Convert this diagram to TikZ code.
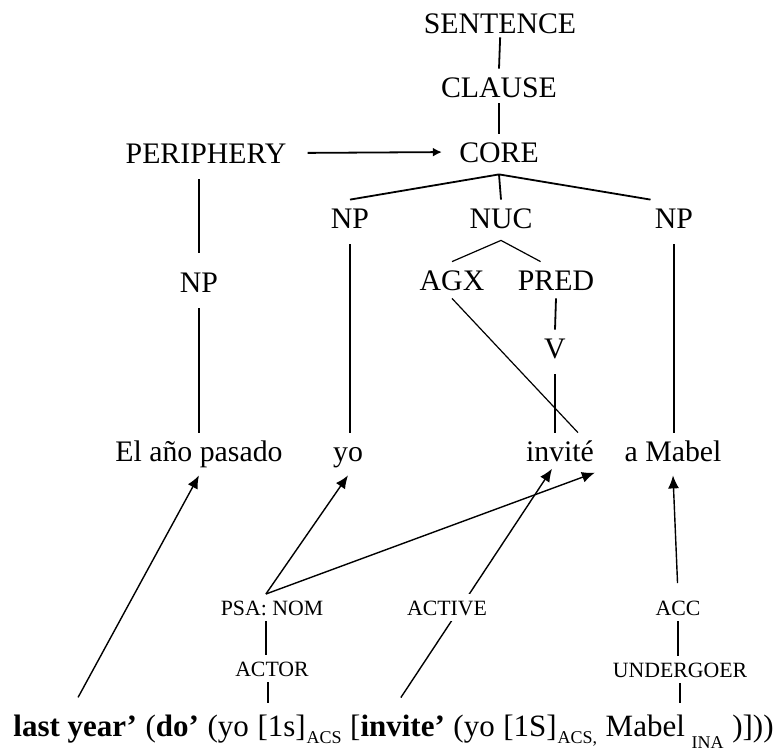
\documentclass[tikz,border=0pt]{standalone}
\usepackage{fontspec}
\setmainfont{Liberation Serif}
\usetikzlibrary{arrows.meta}
\begin{document}
\begin{tikzpicture}[x=0.5pt,y=-0.5pt,
  cat/.style={font=\fontsize{14.9}{17}\selectfont, anchor=base, text height=10pt, text depth=0pt, inner xsep=2pt, inner ysep=4pt},
  word/.style={cat, text depth=3pt},
  role/.style={font=\fontsize{10.9}{13}\selectfont, anchor=base, text height=7.3pt, text depth=0pt, inner xsep=2pt, inner ysep=3pt},
  formula/.style={font=\fontsize{15.5}{18}\selectfont, anchor=base west, inner xsep=0pt, inner ysep=6.5pt, text height=10pt, text depth=3pt},
  sub/.style={font=\fontsize{9}{10}\selectfont, anchor=base west, inner sep=0pt},
  tree/.style={line width=0.9pt},
  thin/.style={line width=0.6pt},
  link/.style={line width=0.7pt, -{Latex[length=6.5pt,width=5.5pt]}},
  small link/.style={line width=0.9pt, -{Latex[length=4.5pt,width=4.5pt]}},
]
\useasboundingbox (0,0) rectangle (783,750);

% syntactic projection
\node[cat] (sentence)  at (500,33)  {SENTENCE};
\node[cat] (clause)    at (499,97)  {CLAUSE};
\node[cat] (core)      at (499,162) {CORE};
\node[cat] (periphery) at (206,163) {PERIPHERY};
\node[cat] (npP)       at (199,292) {NP};
\node[cat] (npA)       at (350,228) {NP};
\node[cat] (nuc)       at (501,228) {NUC};
\node[cat] (npC)       at (674,228) {NP};
\node[cat] (agx)       at (452,290) {AGX};
\node[cat] (pred)      at (556,290) {PRED};
\node[cat] (v)         at (555,358) {V};

% the Spanish sentence
\node[word] (elano)  at (199,461) {El año pasado};
\node[word] (yo)     at (348,461) {yo};
\node[word] (invite) at (560,461) {invité};
\node[word] (mabel)  at (673,461) {a Mabel};

% tree edges
\draw[tree, shorten <=-2pt] (sentence.south) -- (clause.north);
\draw[tree, shorten <=-1pt] (clause.south) -- (core.north);
\draw[small link, shorten <=8.5pt, shorten >=6.5pt] (periphery.east) -- (core.west);
\draw[tree] ([yshift=-2pt]core.south) -- (npA.north);
\draw[tree] ([yshift=-2pt]core.south) -- (nuc.north);
\draw[tree] ([yshift=-2pt]core.south) -- (npC.north west);
\draw[tree, shorten <=4pt, shorten >=5.5pt] (npP.north |- periphery.south) -- (npP.north);
\draw[tree, shorten <=4pt] (npP.south) -- (elano.north);
\draw[tree, shorten <=4pt] (npA.south) -- (npA.south |- yo.north);
\draw[tree, shorten <=4pt] (npC.south) -- (npC.south |- mabel.north);
\draw[thin] ([yshift=-2pt]nuc.south) -- (agx.north);
\draw[thin] ([yshift=-2pt]nuc.south) -- (pred.130);
\draw[tree] (pred.south) -- (v.north);
\draw[tree, shorten <=4pt] (v.south) -- (v.south |- invite.north);
\draw[thin] (agx.south) -- (invite.50);

% logical structure
\node[formula] (lastyear) at (13,736) {\textbf{last year’}};
\node[formula] (dopart) at ([xshift=3.9pt]lastyear.base east) {(\textbf{do’}};
\node[formula] (yoA) at ([xshift=3.9pt]dopart.base east) {(yo};
\node[formula] (onesA) at ([xshift=3.9pt]yoA.base east) {[1s]};
\node[sub] (acsA) at (onesA.base east) {\raisebox{-3.5pt}{ACS}};
\node[formula] (invpart) at ([xshift=3.9pt]acsA.base east) {[\textbf{invite’}};
\node[formula] (yoB) at ([xshift=3.9pt]invpart.base east) {(yo};
\node[formula] (onesB) at ([xshift=3.9pt]yoB.base east) {[1S]};
\node[sub] (acsB) at (onesB.base east) {\raisebox{-3.5pt}{ACS,}};
\node[formula] (mabelF) at ([xshift=3.9pt]acsB.base east) {Mabel};
\node[sub] (ina) at ([xshift=3pt]mabelF.base east) {\raisebox{-6pt}{INA}};
\node[formula] (closing) at ([xshift=3.9pt]ina.base east) {)]))};

% semantic roles and macroroles
\node[role] (psanom)    at (272,615) {PSA: NOM};
\node[role] (actor)     at (272,676) {ACTOR};
\node[role] (acc)       at (678,615) {ACC};
\node[role] (undergoer) at (680,677) {UNDERGOER};

\draw[tree] ([xshift=-3pt]psanom.south) -- ([xshift=-3pt]actor.north);
\draw[tree] ([xshift=-2pt]actor.south) -- ([xshift=-2pt]actor.south |- onesA.north);
\draw[tree] (acc.south) -- (acc.south |- undergoer.north);
\draw[tree] (undergoer.south) -- (undergoer.south |- mabelF.north);

% linking arrows
\draw[link, shorten <=3pt] (lastyear.north) -- (elano.south);
\draw[link] (psanom.114) -- (yo.south);
\draw[link, shorten >=-4pt] (psanom.114) -- (invite.322);
\draw[link, shorten <=3pt, shorten >=-4pt] (invpart.north) -- (invite.240);
\draw[link, shorten <=5.5pt] (acc.north) -- (mabel.south);
\node[role, fill=white] (active) at (447,615) {ACTIVE};
\end{tikzpicture}
\end{document}
